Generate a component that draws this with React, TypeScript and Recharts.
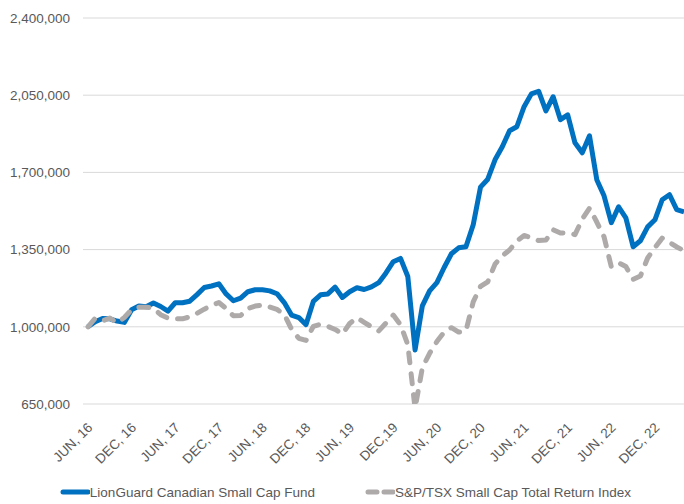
import { CartesianGrid, Legend, Line, LineChart, XAxis, YAxis } from "recharts";

const months = [
  "JUN, 16", "JUL, 16", "AUG, 16", "SEP, 16", "OCT, 16", "NOV, 16", "DEC, 16",
  "JAN, 17", "FEB, 17", "MAR, 17", "APR, 17", "MAY, 17", "JUN, 17",
  "JUL, 17", "AUG, 17", "SEP, 17", "OCT, 17", "NOV, 17", "DEC, 17",
  "JAN, 18", "FEB, 18", "MAR, 18", "APR, 18", "MAY, 18", "JUN, 18",
  "JUL, 18", "AUG, 18", "SEP, 18", "OCT, 18", "NOV, 18", "DEC, 18",
  "JAN, 19", "FEB, 19", "MAR, 19", "APR, 19", "MAY, 19", "JUN, 19",
  "JUL, 19", "AUG, 19", "SEP, 19", "OCT, 19", "NOV, 19", "DEC,19",
  "JAN, 20", "FEB, 20", "MAR, 20", "APR, 20", "MAY, 20", "JUN, 20",
  "JUL, 20", "AUG, 20", "SEP, 20", "OCT, 20", "NOV, 20", "DEC, 20",
  "JAN, 21", "FEB, 21", "MAR, 21", "APR, 21", "MAY, 21", "JUN, 21",
  "JUL, 21", "AUG, 21", "SEP, 21", "OCT, 21", "NOV, 21", "DEC, 21",
  "JAN, 22", "FEB, 22", "MAR, 22", "APR, 22", "MAY, 22", "JUN, 22",
  "JUL, 22", "AUG, 22", "SEP, 22", "OCT, 22", "NOV, 22", "DEC, 22",
  "JAN, 23", "FEB, 23", "MAR, 23", "APR, 23",
];

// growth of $1,000,000
const fundValues = [
  1000000, 1023000, 1038000, 1036000, 1026000, 1020000, 1077000, 1094000, 1091000, 1108000,
  1092000, 1071000, 1109000, 1109000, 1116000, 1146000, 1178000, 1185000, 1195000, 1149000,
  1118000, 1130000, 1159000, 1168000, 1168000, 1163000, 1150000, 1110000, 1053000, 1042000,
  1010000, 1115000, 1145000, 1149000, 1180000, 1133000, 1159000, 1177000, 1169000, 1181000,
  1200000, 1244000, 1295000, 1310000, 1228000, 895000, 1095000, 1163000, 1200000, 1269000,
  1331000, 1358000, 1363000, 1463000, 1633000, 1669000, 1757000, 1816000, 1889000, 1907000,
  1998000, 2056000, 2068000, 1979000, 2043000, 1939000, 1961000, 1834000, 1789000, 1866000,
  1667000, 1594000, 1472000, 1544000, 1494000, 1363000, 1390000, 1453000, 1485000, 1576000,
  1599000, 1531000, 1521000,
];

const indexValues = [
  1000000, 1039000, 1027000, 1040000, 1018000, 1042000, 1078000, 1089000, 1089000, 1084000,
  1055000, 1039000, 1036000, 1036000, 1045000, 1061000, 1080000, 1097000, 1110000, 1083000,
  1050000, 1051000, 1083000, 1094000, 1099000, 1090000, 1079000, 1056000, 990000, 948000,
  938000, 1002000, 1012000, 1002000, 988000, 967000, 1015000, 1041000, 1020000, 1000000,
  981000, 1017000, 1053000, 1009000, 919000, 630000, 814000, 880000, 933000, 976000,
  996000, 976000, 982000, 1113000, 1183000, 1204000, 1284000, 1322000, 1348000, 1389000,
  1414000, 1404000, 1391000, 1393000, 1440000, 1425000, 1427000, 1418000, 1488000, 1538000,
  1475000, 1408000, 1272000, 1290000, 1273000, 1215000, 1230000, 1312000, 1359000, 1402000,
  1383000, 1362000, 1345000,
];

const yTicks = [650000, 1000000, 1350000, 1700000, 2050000, 2400000];
const seriesNames = [
  "LionGuard Canadian Small Cap Fund",
  "S&P/TSX Small Cap Total Return Index",
];

const FONT = '"Liberation Sans", Arial, sans-serif';
const TEXT = "#595959";
const BLUE = "#0070C0";
const GRAY = "#AEAAAA";
const DASH = "10 11";

const data = months.map((month, i) => ({
  month,
  fund: fundValues[i],
  index: indexValues[i],
}));

function MonthTick({ x, y, payload }: any) {
  return (
    <g transform={`translate(${x + 2},${y + 13})`}>
      <text
        textAnchor="end"
        dy="0.35em"
        transform="rotate(-45)"
        fill={TEXT}
        fontSize={13.5}
        fontFamily={FONT}
      >
        {payload.value}
      </text>
    </g>
  );
}

function ChartLegend() {
  return (
    <div
      style={{
        display: "flex",
        justifyContent: "center",
        alignItems: "center",
        height: 24,
        paddingLeft: 7,
        fontFamily: FONT,
        fontSize: 13.5,
        color: TEXT,
        whiteSpace: "nowrap",
      }}
    >
      <span style={{ display: "flex", alignItems: "center" }}>
        <svg width={30} height={10}>
          <line x1={3} y1={5} x2={28} y2={5} stroke={BLUE} strokeWidth={5} strokeLinecap="round" />
        </svg>
        {seriesNames[0]}
      </span>
      <span style={{ display: "flex", alignItems: "center", marginLeft: 50 }}>
        <svg width={30} height={10}>
          <line
            x1={3}
            y1={5}
            x2={28}
            y2={5}
            stroke={GRAY}
            strokeWidth={5}
            strokeLinecap="round"
            strokeDasharray="9 7"
          />
        </svg>
        {seriesNames[1]}
      </span>
    </div>
  );
}

export default function App() {
  return (
    <div style={{ position: "absolute", left: 0, top: 0, width: 684, height: 504, background: "#fff" }}>
      <LineChart
        width={684}
        height={504}
        data={data}
        margin={{ top: 18, right: 0, left: 0, bottom: 0 }}
      >
        <CartesianGrid vertical={false} stroke="#D9D9D9" />
        <XAxis
          dataKey="month"
          interval={5}
          padding={{ left: 5, right: 0 }}
          axisLine={false}
          tickLine={false}
          height={76}
          tick={<MonthTick />}
        />
        <YAxis
          width={83}
          domain={[650000, 2400000]}
          ticks={yTicks}
          allowDataOverflow
          axisLine={false}
          tickLine={false}
          tickMargin={7}
          tick={{ fill: TEXT, fontSize: 13.5, fontFamily: FONT }}
          tickFormatter={(v: number) => v.toLocaleString("en-US")}
        />
        <Legend
          verticalAlign="bottom"
          wrapperStyle={{ left: 0, bottom: 0, width: 684, height: 24 }}
          content={() => <ChartLegend />}
        />
        <Line
          type="linear"
          dataKey="fund"
          name={seriesNames[0]}
          stroke={BLUE}
          strokeWidth={5}
          strokeLinejoin="round"
          dot={false}
          activeDot={false}
          isAnimationActive={false}
        />
        <Line
          type="linear"
          dataKey="index"
          name={seriesNames[1]}
          stroke={GRAY}
          strokeWidth={5}
          strokeLinecap="round"
          strokeLinejoin="round"
          strokeDasharray={DASH}
          dot={false}
          activeDot={false}
          isAnimationActive={false}
        />
      </LineChart>
    </div>
  );
}
